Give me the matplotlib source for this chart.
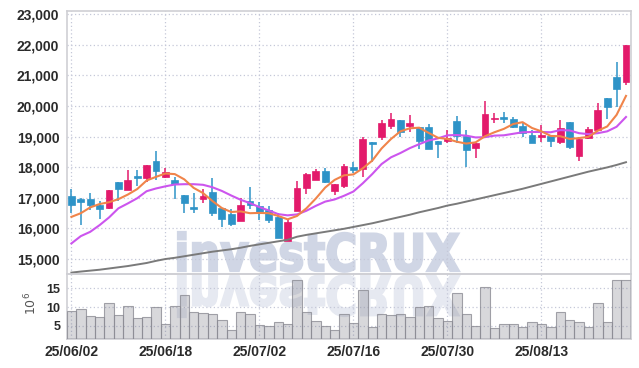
import numpy as np
import matplotlib
matplotlib.use('Agg')
import matplotlib.pyplot as plt
from matplotlib.textpath import TextPath
from matplotlib.patches import PathPatch
from matplotlib.font_manager import FontProperties
from matplotlib.transforms import Affine2D

plt.rcParams['font.family'] = ['Liberation Sans', 'DejaVu Sans']

# 거래일 (25/06/02 ~ 25/08/27)
dates = ['25/06/02', '25/06/04', '25/06/05', '25/06/09', '25/06/10', '25/06/11', '25/06/12', '25/06/13',
         '25/06/16', '25/06/17', '25/06/18', '25/06/19', '25/06/20', '25/06/23', '25/06/24', '25/06/25',
         '25/06/26', '25/06/27', '25/06/30', '25/07/01', '25/07/02', '25/07/03', '25/07/04', '25/07/07',
         '25/07/08', '25/07/09', '25/07/10', '25/07/11', '25/07/14', '25/07/15', '25/07/16', '25/07/17',
         '25/07/18', '25/07/21', '25/07/22', '25/07/23', '25/07/24', '25/07/25', '25/07/28', '25/07/29',
         '25/07/30', '25/07/31', '25/08/01', '25/08/04', '25/08/05', '25/08/06', '25/08/07', '25/08/08',
         '25/08/11', '25/08/12', '25/08/13', '25/08/14', '25/08/18', '25/08/19', '25/08/20', '25/08/21',
         '25/08/22', '25/08/25', '25/08/26', '25/08/27']

open_ = np.array([17060, 16960, 16950, 16760, 16670, 17500, 17260, 17700, 17630, 18200,
                  17680, 17580, 17080, 16690, 16960, 17180, 16650, 16460, 16230, 16900,
                  16720, 16590, 16370, 15580, 16570, 17320, 17580, 17880, 17230, 17380,
                  17990, 17950, 18830, 18990, 19350, 19540, 19350, 19300, 19320, 18850,
                  18860, 19510, 19030, 18630, 19030, 19570, 19640, 19590, 19340, 19050,
                  18990, 19020, 18830, 19470, 18370, 18960, 19230, 20260, 20940, 20790])
high = np.array([17270, 16980, 17140, 16900, 17250, 17500, 17920, 17920, 18080, 18530,
                 17980, 17660, 17080, 17140, 17290, 17650, 16650, 16620, 16980, 17340,
                 16860, 16720, 16490, 16270, 17540, 17810, 17940, 17960, 17440, 18100,
                 18170, 18990, 18830, 19540, 19760, 19540, 19720, 19300, 19400, 18850,
                 19230, 19670, 19210, 18800, 20170, 19760, 19810, 19630, 19430, 19230,
                 19380, 19020, 19540, 19470, 18990, 19300, 20090, 20260, 21430, 21990])
low = np.array([16490, 16100, 16590, 16290, 16640, 16900, 17260, 17380, 17500, 17580,
                17630, 16940, 16490, 16490, 16810, 16400, 16040, 16080, 16230, 16620,
                16270, 16180, 15690, 15580, 16570, 17110, 17580, 17470, 17080, 17300,
                17810, 17680, 18170, 18880, 19240, 18970, 19140, 18580, 18580, 18290,
                18780, 18780, 17990, 18290, 19030, 19430, 19430, 19270, 18990, 18780,
                18830, 18650, 18740, 18580, 18200, 18910, 19230, 19590, 19970, 20680])
close = np.array([16770, 16860, 16750, 16640, 17250, 17280, 17570, 17650, 18070, 17860,
                  17830, 17430, 16830, 16630, 17050, 16500, 16310, 16140, 16750, 16770,
                  16530, 16270, 15690, 16200, 17310, 17770, 17880, 17510, 17440, 18040,
                  17900, 18920, 18760, 19430, 19570, 19150, 19450, 18860, 18590, 18740,
                  18940, 19030, 18560, 18800, 19740, 19600, 19580, 19320, 19100, 18800,
                  19030, 18860, 19270, 18660, 18910, 19240, 19870, 19970, 20550, 21990])

# 거래량 (백만 주)
volume = np.array([8.95, 9.5, 7.6, 7.3, 11.0, 7.9, 10.2, 7.1, 7.3, 10.0,
                   5.5, 10.2, 13.2, 8.7, 8.4, 8.1, 6.7, 4.0, 8.6, 8.1,
                   5.2, 4.9, 5.9, 5.4, 17.3, 8.6, 6.3, 4.9, 3.8, 8.1,
                   5.7, 14.6, 4.7, 8.1, 7.9, 8.3, 7.3, 10.0, 10.2, 7.1,
                   6.2, 13.7, 8.3, 4.9, 15.3, 4.3, 5.4, 5.4, 4.7, 5.9,
                   5.4, 4.7, 8.6, 6.7, 5.9, 4.7, 11.0, 5.9, 17.3, 17.3])

# 이동평균선
ma5 = [16370, 16490, 16680, 16790, 16850, 16950, 17100, 17280, 17560, 17680,
       17790, 17770, 17600, 17320, 17150, 16890, 16660, 16530, 16550, 16490,
       16500, 16490, 16400, 16290, 16400, 16650, 16970, 17330, 17580, 17730,
       17760, 17960, 18210, 18610, 18920, 19170, 19270, 19290, 19120, 18960,
       18920, 18830, 18770, 18810, 19010, 19140, 19250, 19410, 19470, 19280,
       19170, 19020, 19010, 18920, 18950, 18990, 19190, 19330, 19710, 20330]
ma10 = [15500, 15740, 15880, 16100, 16350, 16650, 16810, 16980, 17210, 17300,
        17370, 17430, 17440, 17440, 17420, 17340, 17220, 17070, 16930, 16820,
        16690, 16580, 16460, 16420, 16450, 16570, 16730, 16870, 16940, 17060,
        17200, 17470, 17770, 18100, 18320, 18460, 18620, 18750, 18870, 18940,
        19040, 19050, 19030, 18970, 18980, 19030, 19040, 19090, 19140, 19150,
        19150, 19140, 19210, 19200, 19110, 19080, 19110, 19170, 19320, 19640]
ma60 = [14545, 14580, 14610, 14640, 14680, 14720, 14760, 14810, 14860, 14930,
        14990, 15030, 15080, 15130, 15180, 15230, 15270, 15310, 15360, 15420,
        15470, 15520, 15570, 15620, 15720, 15780, 15830, 15880, 15930, 15980,
        16040, 16100, 16160, 16230, 16300, 16370, 16440, 16520, 16590, 16660,
        16740, 16800, 16870, 16940, 17010, 17080, 17150, 17220, 17290, 17370,
        17450, 17530, 17610, 17690, 17770, 17850, 17920, 17990, 18070, 18160]

price_ticks = [15000, 16000, 17000, 18000, 19000, 20000, 21000, 22000, 23000]
vol_ticks = [5, 10, 15]

W, H = 639, 368
fig = plt.figure(figsize=(W / 100, H / 100), dpi=100)

# 워터마크 (배경)
ax_bg = fig.add_axes([0, 0, 1, 1], zorder=0)
ax_bg.set_xlim(0, W)
ax_bg.set_ylim(0, H)
ax_bg.axis('off')
tp = TextPath((0, 0), 'investCRUX', size=100, prop=FontProperties(family='DejaVu Sans', weight='bold'))
ext = tp.get_extents()
sx = 281 / ext.width
sy = 39 / ext.y1
x0 = 178 - ext.x0 * sx
main_tr = Affine2D().scale(sx, sy).translate(x0, H - 271)
refl_tr = Affine2D().scale(sx, -sy * 1.05).translate(x0, H - 276)
ax_bg.add_patch(PathPatch(main_tr.transform_path(tp), facecolor='#d0d6e5', edgecolor='#d0d6e5',
                          linewidth=1.6))
ax_bg.add_patch(PathPatch(refl_tr.transform_path(tp), facecolor='#e6e9f1', edgecolor='#e6e9f1',
                          linewidth=1.6))

left, right = 66.7 / W, 630.7 / W
ax = fig.add_axes([left, 1 - 274.3 / H, right - left, 263 / H], zorder=1)
axv = fig.add_axes([left, 1 - 339.3 / H, right - left, 65 / H], zorder=1, sharex=ax)
for a in (ax, axv):
    a.set_facecolor('none')
    for s in a.spines.values():
        s.set_color('#cfcfd4')
        s.set_linewidth(1.2)
    a.grid(True, color='#c5c8d8', linestyle=(0, (1, 2)), linewidth=0.9)
    a.set_axisbelow(True)

x = np.arange(len(close))
up = close >= open_
colors = np.where(up, '#e31a6b', '#2e93c7')

ax.vlines(x, low, high, color=colors, linewidth=1.1, zorder=3)
ax.bar(x, np.maximum(np.abs(close - open_), 45), bottom=np.minimum(open_, close),
       width=0.72, color=colors, edgecolor=colors, linewidth=0.5, zorder=4)
ax.plot(x, ma60, color='#7a7a7a', linewidth=1.4, zorder=5)
ax.plot(x, ma10, color='#cc55ee', linewidth=1.5, zorder=5)
ax.plot(x, ma5, color='#f0844a', linewidth=1.5, zorder=5)

ax.set_xlim(-0.5, len(close) - 0.5)
ax.set_ylim(14490, 23100)
ax.set_yticks(price_ticks)
ax.set_yticklabels([f'{t:,}' for t in price_ticks])
ax.tick_params(axis='y', length=0, pad=5.3, labelsize=10, labelcolor='#2a2a2a')
ax.tick_params(axis='x', length=0, labelbottom=False)

axv.bar(x, volume, width=1.0, color=(0.45, 0.45, 0.5, 0.28), edgecolor=(0.55, 0.55, 0.58, 0.8),
        linewidth=0.8, zorder=3)
axv.set_ylim(1.4, 18.8)
axv.set_yticks(vol_ticks)
axv.tick_params(axis='y', length=0, pad=4.3, labelsize=9, labelcolor='#2a2a2a')
axv.set_xticks(x[::10])
axv.set_xticklabels(dates[::10])
axv.tick_params(axis='x', length=0, pad=4, labelsize=10, labelcolor='#2a2a2a')
for lab in axv.get_xticklabels() + ax.get_yticklabels() + axv.get_yticklabels():
    lab.set_fontweight('bold')

fig.text(31 / W, 1 - 303 / H, r'$10^6$', rotation=90, ha='center', va='center',
         fontsize=9, color='#555555', family='DejaVu Sans')

fig.savefig('out.png', dpi=100)
